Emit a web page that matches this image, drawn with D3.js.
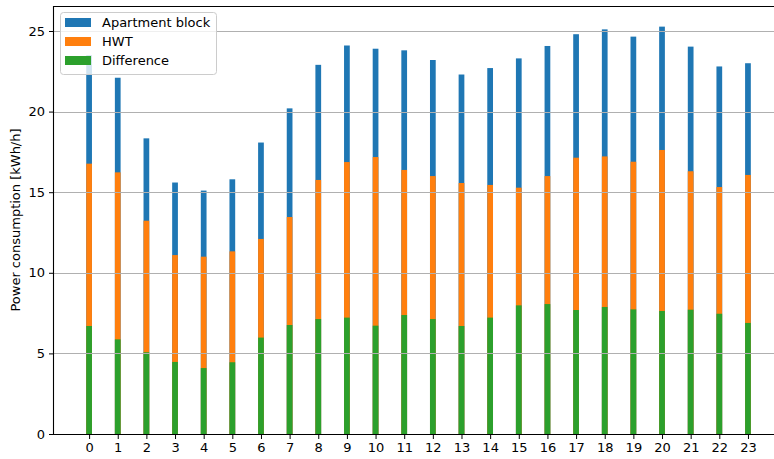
<!DOCTYPE html>
<html><head><meta charset="utf-8">
<script src="https://cdn.jsdelivr.net/npm/d3@7"></script>
<style>body{margin:0;background:#fff}svg{display:block}text{font-family:"DejaVu Sans",sans-serif}</style>
</head><body>
<svg id="c" width="774" height="459"></svg>
<script>
const hours = d3.range(24);
const apartment = [23.5,22.1,18.34,15.6,15.1,15.8,18.08,20.2,22.9,24.1,23.9,23.8,23.2,22.3,22.7,23.3,24.07,24.8,25.1,24.65,25.27,24.03,22.8,23.0];
const hwt = [16.77,16.23,13.23,11.1,11.0,11.33,12.1,13.46,15.76,16.87,17.18,16.38,16.0,15.57,15.45,15.28,16.0,17.14,17.22,16.89,17.62,16.3,15.32,16.07];
const difference = [6.7,5.87,5.07,4.47,4.09,4.45,5.98,6.76,7.13,7.22,6.72,7.38,7.13,6.7,7.22,7.98,8.06,7.69,7.88,7.73,7.63,7.71,7.46,6.89];
const yTicks = [0,5,10,15,20,25];
const seriesNames = ["Apartment block","HWT","Difference"];
const colors = ["#1f77b4","#ff7f0e","#2ca02c"];

const svg = d3.select("#c");
const mLeft = 53, mTop = 6, mBottom = 434;
const x = d3.scaleLinear().domain([-1.26, 24.26]).range([mLeft, 89 + 24.26*28.65]);
const y = d3.scaleLinear().domain([0, 26.55]).range([mBottom, mTop]);
const bw = x(0.2) - x(0);

const series = [apartment, hwt, difference];
series.forEach((vals, si) => {
  svg.append("g").selectAll("rect").data(vals).join("rect")
    .attr("x", (d,i) => x(hours[i]) - bw/2)
    .attr("width", bw)
    .attr("y", d => y(d))
    .attr("height", d => y(0) - y(d))
    .attr("fill", colors[si]);
});

// grid on top
svg.append("g").selectAll("line").data(yTicks).join("line")
  .attr("x1", mLeft).attr("x2", 774)
  .attr("y1", d => Math.round(y(d))+0.5).attr("y2", d => Math.round(y(d))+0.5)
  .attr("stroke", "#b0b0b0").attr("stroke-width", 1.1);

// spines
svg.append("line").attr("x1", mLeft+0.5).attr("x2", mLeft+0.5).attr("y1", mTop).attr("y2", mBottom).attr("stroke","#000").attr("stroke-width",1.1);
svg.append("line").attr("x1", mLeft).attr("x2", 774).attr("y1", mTop+0.5).attr("y2", mTop+0.5).attr("stroke","#000").attr("stroke-width",1.1);
svg.append("line").attr("x1", mLeft).attr("x2", 774).attr("y1", mBottom+0.5).attr("y2", mBottom+0.5).attr("stroke","#000").attr("stroke-width",1.1);

// axes
const xAxis = d3.axisBottom(x).tickValues(hours).tickSize(4.5).tickPadding(4).tickFormat(d3.format("d"));
const gx = svg.append("g").attr("transform", `translate(0,${mBottom+0.5})`).call(xAxis);
gx.select(".domain").remove();
gx.selectAll("text").attr("font-size", 13).attr("font-family","DejaVu Sans").attr("fill","#000");
const yAxis = d3.axisLeft(y).tickValues(yTicks).tickSize(4.5).tickPadding(4).tickFormat(d3.format("d"));
const gy = svg.append("g").attr("transform", `translate(${mLeft+0.5},0)`).call(yAxis);
gy.select(".domain").remove();
gy.selectAll("text").attr("font-size", 13).attr("font-family","DejaVu Sans").attr("fill","#000");

svg.append("text").attr("transform", "translate(20,220) rotate(-90)")
  .attr("text-anchor","middle").attr("font-size",13).text("Power consumption [kWh/h]");

// legend
const lg = svg.append("g").attr("transform","translate(60,12)");
lg.append("rect").attr("x",0.5).attr("y",0.5).attr("width",156).attr("height",62).attr("rx",3)
  .attr("fill","#fff").attr("fill-opacity",0.8).attr("stroke","#cccccc");
seriesNames.forEach((n,i) => {
  lg.append("rect").attr("x",5).attr("y",6+i*19).attr("width",26).attr("height",9).attr("fill",colors[i]);
  lg.append("text").attr("x",42).attr("y",15+i*19).attr("font-size",13).text(n);
});
</script>
</body></html>
